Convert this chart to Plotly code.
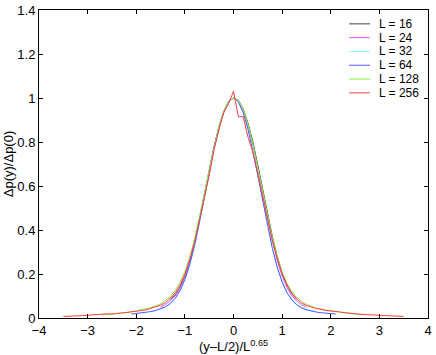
import plotly.graph_objects as go

# shared x grid, -3.5 .. 3.5 in steps of 0.1
X = [-3.5, -3.4, -3.3, -3.2, -3.1, -3.0, -2.9, -2.8, -2.7, -2.6,
     -2.5, -2.4, -2.3, -2.2, -2.1, -2.0, -1.9, -1.8, -1.7, -1.6,
     -1.5, -1.4, -1.3, -1.2, -1.1, -1.0, -0.9, -0.8, -0.7, -0.6,
     -0.5, -0.4, -0.3, -0.2, -0.1, 0.0, 0.1, 0.2, 0.3, 0.4,
     0.5, 0.6, 0.7, 0.8, 0.9, 1.0, 1.1, 1.2, 1.3, 1.4,
     1.5, 1.6, 1.7, 1.8, 1.9, 2.0, 2.1, 2.2, 2.3, 2.4,
     2.5, 2.6, 2.7, 2.8, 2.9, 3.0, 3.1, 3.2, 3.3, 3.4, 3.5]

# L = 16, x from -1.3 to 1.3
y16 = [0.085, 0.105, 0.14, 0.19, 0.26, 0.345, 0.45, 0.56, 0.67, 0.78,
       0.87, 0.94, 0.985, 1.0, 0.99, 0.95, 0.885, 0.80, 0.695, 0.585,
       0.475, 0.37, 0.28, 0.205, 0.15, 0.11, 0.085]

# L = 24, x from -1.5 to 1.5
y24 = [0.05, 0.062, 0.078, 0.10, 0.135, 0.185, 0.255, 0.34, 0.445, 0.555,
       0.665, 0.775, 0.865, 0.935, 0.985, 1.0, 0.985, 0.94, 0.87, 0.78,
       0.675, 0.565, 0.455, 0.35, 0.26, 0.19, 0.138, 0.10, 0.077, 0.06,
       0.05]

# L = 32, x from -1.7 to 1.7
y32 = [0.03, 0.034, 0.04, 0.05, 0.065, 0.088, 0.122, 0.172, 0.24, 0.325,
       0.43, 0.545, 0.66, 0.77, 0.865, 0.935, 0.985, 1.0, 0.985, 0.935,
       0.86, 0.765, 0.655, 0.54, 0.425, 0.32, 0.235, 0.168, 0.12, 0.086,
       0.064, 0.049, 0.04, 0.034, 0.03]

# L = 64, x from -2.1 to 2.1
y64 = [0.018, 0.02, 0.022, 0.025, 0.029, 0.034, 0.041, 0.051, 0.066, 0.089,
       0.124, 0.175, 0.243, 0.33, 0.435, 0.55, 0.662, 0.772, 0.865, 0.935,
       0.985, 1.0, 0.983, 0.933, 0.857, 0.76, 0.648, 0.535, 0.42, 0.315,
       0.23, 0.163, 0.115, 0.082, 0.06, 0.046, 0.037, 0.031, 0.027, 0.024,
       0.022, 0.02, 0.018]

# L = 128, x from -2.7 to 2.7
y128 = [0.013, 0.015, 0.017, 0.019, 0.022, 0.025, 0.028, 0.032, 0.036, 0.041,
        0.047, 0.055, 0.065, 0.079, 0.098, 0.125, 0.162, 0.212, 0.278, 0.36,
        0.458, 0.565, 0.675, 0.78, 0.87, 0.94, 0.985, 1.0, 0.99, 0.95,
        0.88, 0.79, 0.685, 0.575, 0.465, 0.365, 0.28, 0.21, 0.158, 0.12,
        0.094, 0.075, 0.062, 0.052, 0.045, 0.04, 0.036, 0.032, 0.029, 0.026,
        0.023, 0.02, 0.018, 0.016, 0.014]

# L = 256, x from -3.5 to 3.5
y256 = [0.007, 0.009, 0.008, 0.01, 0.011, 0.013, 0.012, 0.015, 0.016, 0.019,
        0.018, 0.022, 0.023, 0.025, 0.029, 0.031, 0.034, 0.037, 0.043, 0.05,
        0.058, 0.07, 0.09, 0.115, 0.15, 0.2, 0.265, 0.345, 0.44, 0.545,
        0.65, 0.765, 0.855, 0.935, 0.975, 1.03, 0.915, 0.915, 0.82, 0.755,
        0.655, 0.55, 0.45, 0.35, 0.27, 0.2, 0.15, 0.112, 0.088, 0.068,
        0.057, 0.05, 0.043, 0.04, 0.034, 0.032, 0.028, 0.027, 0.024, 0.021,
        0.02, 0.017, 0.016, 0.014, 0.015, 0.012, 0.011, 0.01, 0.009, 0.008,
        0.007]

labels = ['L = 16', 'L = 24', 'L = 32', 'L = 64', 'L = 128', 'L = 256']
series = [
    (X[22:49], y16),
    (X[20:51], y24),
    (X[18:53], y32),
    (X[14:57], y64),
    (X[8:63], y128),
    (X[0:71], y256),
]
colors = ['#404040', '#ee55ff', '#88ffff', '#5555ff', '#88ee44', '#ff4040']

fig = go.Figure()
for (xs, ys), name, c in zip(series, labels, colors):
    fig.add_trace(go.Scatter(x=xs, y=ys, mode='lines', name=name,
                             line=dict(color=c, width=1), showlegend=False))

# hand-made legend so the rows sit as tight as in the original
for i, (name, c) in enumerate(zip(labels, colors)):
    yy = 0.955 - i * 0.0448
    fig.add_shape(type='line', xref='paper', yref='paper',
                  x0=0.797, x1=0.851, y0=yy, y1=yy,
                  line=dict(color=c, width=1))
    fig.add_annotation(x=0.869, y=yy, xref='paper', yref='paper',
                       text=name, showarrow=False, xanchor='left',
                       yanchor='middle', font=dict(size=12, color='black'))

axis_style = dict(showline=True, linecolor='black', linewidth=1, mirror='ticks',
                  ticks='inside', ticklen=4, tickcolor='black',
                  showgrid=False, zeroline=False, automargin=False,
                  tickfont=dict(size=13, color='black'))

fig.update_xaxes(range=[-4, 4], dtick=1, tick0=-4,
                 title=dict(text='(y\u2013L/2)/L<sup>0.65</sup>', standoff=0,
                            font=dict(size=13, color='black')),
                 **axis_style)
fig.update_yaxes(range=[0, 1.4], dtick=0.2, tick0=0,
                 title=dict(text='\u0394p(y)/\u0394p(0)', standoff=0,
                            font=dict(size=13, color='black')),
                 **axis_style)

fig.update_layout(
    width=436, height=355,
    margin=dict(l=39, r=8, t=10, b=37),
    plot_bgcolor='white', paper_bgcolor='white',
    hovermode=False,
    font=dict(family='Liberation Sans, Arial, sans-serif', size=12, color='black'),
)

# drop the default 8px body margin so the figure sits at the window corner
fig.write_html("out.html", config={'displayModeBar': False},
               post_script="document.body.style.margin='0px';")
